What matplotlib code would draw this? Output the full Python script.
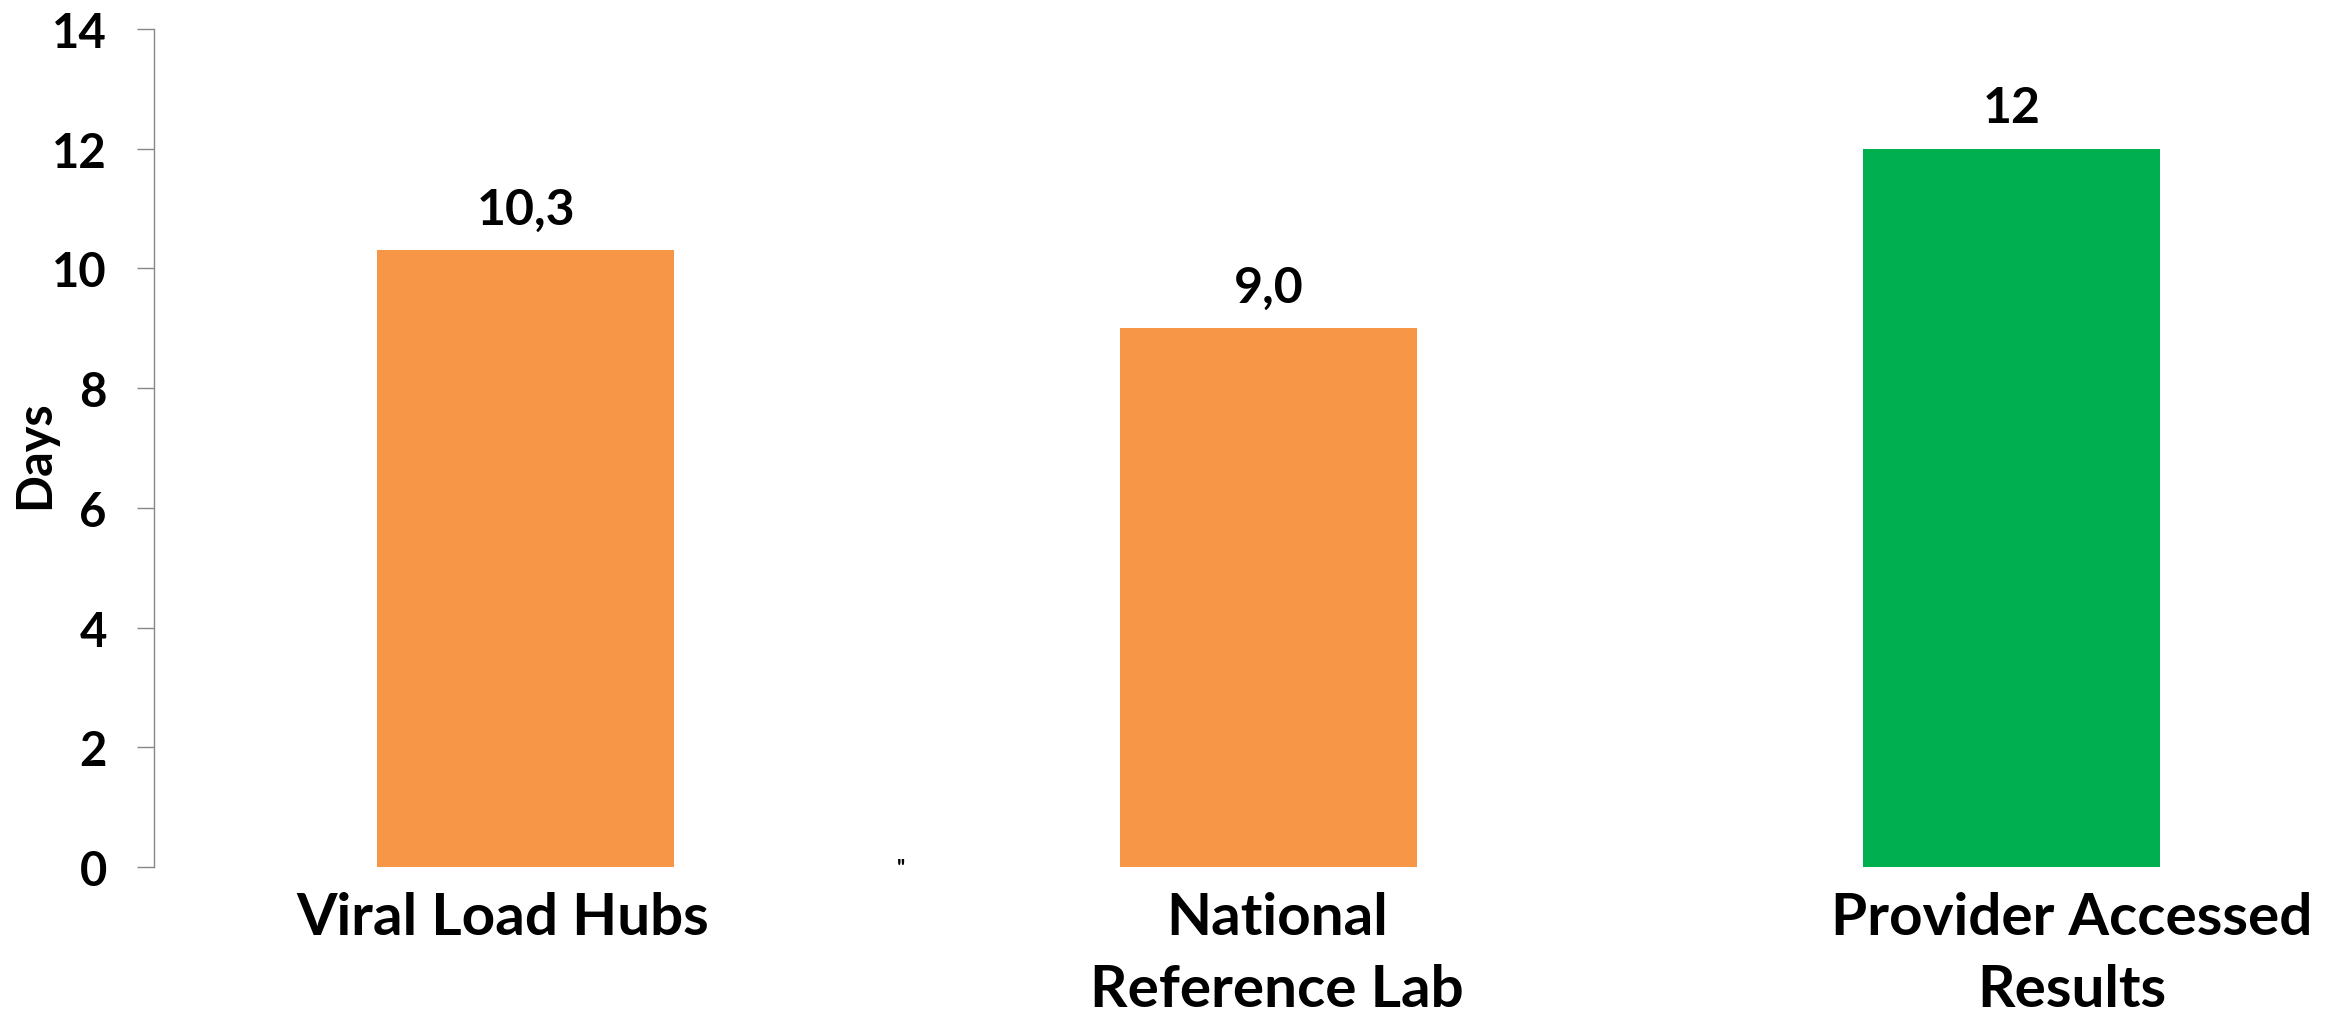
import matplotlib
matplotlib.use("Agg")
import matplotlib.pyplot as plt
import matplotlib.transforms as mtransforms

categories = ["Viral Load Hubs", "National\nReference Lab", "Provider Accessed\nResults"]
values = [10.3, 9.0, 12]
value_labels = ["10,3", "9,0", "12"]
colors = ["#F79646", "#F79646", "#00B050"]
yticks = [0, 2, 4, 6, 8, 10, 12, 14]

plt.rcParams['font.family'] = ['Lato', 'DejaVu Sans']
plt.rcParams['font.weight'] = 'bold'

W, H = 2341, 1020
fig = plt.figure(figsize=(W / 100, H / 100), dpi=100)
ax = fig.add_axes([154 / W, (H - 868) / H, (W - 154) / W, (868 - 30) / H])

x = list(range(len(categories)))
bars = ax.bar(x, values, width=0.40, color=colors, zorder=2)

for xi, v, lab in zip(x, values, value_labels):
    ax.annotate(lab, (xi, v), xytext=(0, 19), textcoords='offset points',
                ha='center', va='baseline', fontsize=36, fontweight='bold', color='black')

ax.set_xlim(-0.5, 2.443)
ax.set_ylim(0, 14)
ax.set_yticks(yticks)
ax.set_yticklabels([str(t) for t in yticks], fontsize=34, fontweight='bold')
ax.set_xticks(x)
ax.set_xticklabels(categories, fontsize=42, fontweight='bold', linespacing=1.45)
ax.tick_params(axis='x', length=0, pad=17)
ax.tick_params(axis='y', length=12, width=1.0, color='#878787', pad=22)

offsets_px = [-23, 8, 60]
for lbl, dx in zip(ax.get_xticklabels(), offsets_px):
    lbl.set_transform(lbl.get_transform() + mtransforms.ScaledTranslation(dx / 100, 0, fig.dpi_scale_trans))

for s in ['top', 'right', 'bottom']:
    ax.spines[s].set_visible(False)
ax.spines['left'].set_color('#878787')
ax.spines['left'].set_linewidth(1.0)

fig.text(35 / W, (H - 455) / H, "Days", rotation=90, ha='center', va='center',
         fontsize=35, fontweight='bold')

# small stray mark present in the original
fig.text(901 / W, (H - 870) / H, "''", ha='center', va='center', fontsize=16, color='black')

fig.savefig("out.png", dpi=100)
